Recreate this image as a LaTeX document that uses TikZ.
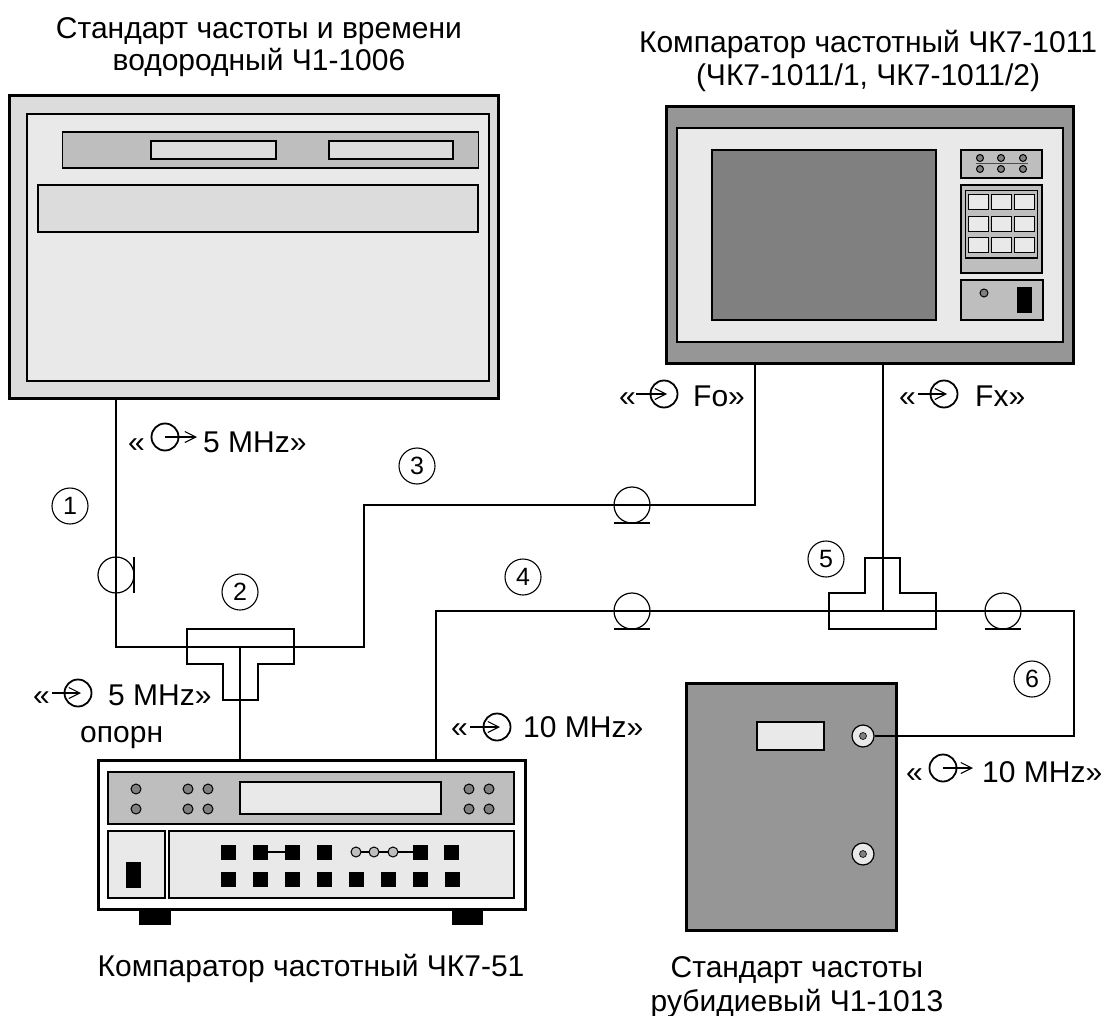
\documentclass[tikz,border=0pt]{standalone}
\usepackage{fontspec}
\setmainfont{Liberation Sans}
\usepackage{xcolor}
\usepackage{tikz}
\usetikzlibrary{arrows.meta,positioning,shapes.geometric}
\definecolor{lightpanel}{HTML}{E9E9E9}
\definecolor{midpanel}{HTML}{DCDCDC}
\definecolor{darkpanel}{HTML}{BEBEBE}
\definecolor{casegray}{HTML}{969696}
\definecolor{screengray}{HTML}{808080}

\begin{document}
\begin{tikzpicture}[x=1pt, y=-1pt,
  device/.style={rectangle, draw=black, line width=3pt, inner sep=0pt, outer sep=0pt},
  panel/.style={draw=black, line width=1.5pt},
  wire/.style={draw=black, line width=1.2pt},
  teepiece/.style={draw=black, line width=1.4pt},
  numcircle/.style={circle, draw=black, line width=1.1pt, minimum size=36pt, inner sep=0pt, font=\fontsize{25}{29}\selectfont},
  cablemark/.style={circle, draw=black, line width=1.2pt, minimum size=36pt, inner sep=0pt, outer sep=0pt},
  lamp/.style={circle, draw=black, line width=1pt, minimum size=10pt, inner sep=0pt, fill=screengray},
  blackkey/.style={rectangle, fill=black, minimum size=15pt, inner sep=0pt},
  softkey/.style={panel, line width=1pt, fill=lightpanel},
  portsym/.style={circle, draw=black, line width=1.8pt, minimum size=27pt, inner sep=0pt},
  portarrow/.style={draw=black, line width=1.1pt, -{Straight Barb[length=11pt,width=11pt]}},
  title/.style={font=\fontsize{30}{36}\selectfont, inner sep=0pt, anchor=base},
  portlabel/.style={font=\fontsize{30}{36}\selectfont, inner sep=0pt, anchor=base west}]

  \useasboundingbox (0,0) rectangle (1102,1016);

  % hydrogen standard
  \node (maser) [device, fill=midpanel, minimum width=489pt, minimum height=302pt] at (253.5,247) {};
  \draw [panel, fill=lightpanel] (27,114) rectangle (489,381);
  \draw [panel, fill=darkpanel] (62.5,132) rectangle (478.5,168);
  \draw [panel, fill=midpanel] (151,141) rectangle (276,159);
  \draw [panel, fill=midpanel] (329,141) rectangle (453,159);
  \draw [panel, fill=midpanel] (38,185) rectangle (478,232);

  % comparator 1011
  \node (compA) [device, fill=casegray, minimum width=407pt, minimum height=256pt] at (869.5,235) {};
  \draw [panel, fill=lightpanel] (677,128) rectangle (1063,342);
  \draw [panel, fill=screengray] (712,150) rectangle (936,320);
  \draw [panel, fill=darkpanel] (961,150) rectangle (1042,178);
  \draw [panel, fill=darkpanel] (961,185) rectangle (1042,273);
  \draw [panel, line width=1pt, fill=darkpanel] (965,191) rectangle (1037,258);
  \draw [panel, fill=darkpanel] (961,280) rectangle (1043,320);
  \draw [draw=black!70, line width=1pt] (976,164) -- (1028,164);
  \foreach \x in {980,1001,1023}
    \foreach \y in {158,169}
      \node [lamp, minimum size=7pt] at (\x,\y) {};
  \foreach \x in {968,991,1014}
    \foreach \y in {195,217,238}
      \draw [softkey] (\x,\y) rectangle ++(20,15);
  \node (compAlamp) [lamp, minimum size=8pt] at (984,293) {};
  \draw [fill=black, draw=none] (1017,287) rectangle (1032,313);

  % comparator 51
  \node (compB) [device, fill=white, minimum width=427pt, minimum height=149pt] at (311.5,834.5) {};
  \draw [panel, fill=darkpanel] (108,772) rectangle (514,824);
  \draw [panel, fill=lightpanel] (240,782) rectangle (441,814);
  \draw [panel, fill=lightpanel] (108,831) rectangle (165,898);
  \draw [panel, fill=lightpanel] (169,831) rectangle (514,898);
  \draw [fill=black, draw=none] (126,862) rectangle (141,888);
  \draw [fill=black, draw=none] (139,909) rectangle (171,925);
  \draw [fill=black, draw=none] (452,909) rectangle (483,925);
  \foreach \x in {136,188,208,469,489}
    \foreach \y in {789,809}
      \node [lamp] at (\x,\y) {};
  \draw [wire] (260,852) -- (292,852);
  \draw [wire] (356,852) -- (420,852);
  \foreach \x in {228,260,292,324,420,451}
    \node [blackkey] at (\x,852) {};
  \foreach \x in {356,374,393}
    \node [lamp, fill=darkpanel] at (\x,852) {};
  \foreach \x in {228,260,292,324,356,388,420,452}
    \node [blackkey] at (\x,879) {};

  % rubidium standard
  \node (rubid) [device, fill=casegray, minimum width=210pt, minimum height=247pt] at (791,806.5) {};
  \draw [panel, fill=lightpanel] (757,722) rectangle (824,750);
  \node (outA) [circle, draw=black, line width=1.2pt, fill=lightpanel, minimum size=22pt, inner sep=0pt] at (863,736) {};
  \node (outB) [circle, draw=black, line width=1.2pt, fill=lightpanel, minimum size=22pt, inner sep=0pt] at (863,854) {};
  \node [lamp, line width=.6pt, minimum size=7pt] at (outA) {};
  \node [lamp, line width=.6pt, minimum size=7pt] at (outB) {};

  % cable marks
  \node (markA) [cablemark] at (116,575) {};
  \node (markB) [cablemark] at (632,505) {};
  \node (markC) [cablemark] at (632,611) {};
  \node (markD) [cablemark] at (1003,611) {};
  \draw [wire] (markA.east |- markA.north) -- (markA.east |- markA.south);
  \draw [wire] (markB.west |- markB.south) -- (markB.east |- markB.south);
  \draw [wire] (markC.west |- markC.south) -- (markC.east |- markC.south);
  \draw [wire] (markD.west |- markD.south) -- (markD.east |- markD.south);

  % tees
  \draw [teepiece] (187,629) -- (294,629) -- (294,664) -- (258,664) -- (258,700) -- (223,700) -- (223,664) -- (187,664) -- cycle;
  \draw [teepiece] (829,629) -- (936,629) -- (936,593) -- (900,593) -- (900,558) -- (865,558) -- (865,593) -- (829,593) -- cycle;

  % wires
  \coordinate (teeA) at (240,647);
  \coordinate (teeB) at (883,611);
  \coordinate (bendA) at (364,647);
  \coordinate (bendB) at (364,505);
  \coordinate (bendC) at (436,611);
  \coordinate (bendD) at (1074,611);
  \coordinate (bendE) at (1074,736);
  \coordinate (portFo) at (755,363);
  \draw [wire] (maser.south -| markA) -- (markA.center) |- (teeA) -- (bendA) -- (bendB) -- (markB.center) -| (portFo);
  \draw [wire] (teeA) -- (compB.north -| teeA);
  \draw [wire] (compB.north -| bendC) -- (bendC) -- (markC.center) -- (teeB) -- (markD.center) -- (bendD) -- (bendE) -- (outA.east);
  \draw [wire] (compA.south -| teeB) -- (teeB);

  % numbers
  \node (numA) [numcircle] at (70,506) {1};
  \node (numB) [numcircle] at (240,592) {2};
  \node (numC) [numcircle] at (417,466) {3};
  \node (numD) [numcircle] at (523,577) {4};
  \node (numE) [numcircle] at (826,559) {5};
  \node (numF) [numcircle] at (1032,679) {6};

  % port symbols
  \foreach \name/\x/\y/\xa/\xb in {symA/165/437/165/197, symB/78/693/52/81, symC/664/394/636/667,
      symD/944/394/918/947, symE/497/727/470/500, symF/943/768/943/973} {
    \node (\name) [portsym] at (\x,\y) {};
    \coordinate (\name a) at (\xa,\y);
    \coordinate (\name b) at (\xb,\y);
    \draw [portarrow] (\name a) -- (\name b);
  }

  % port labels
  \node (lblA) [portlabel] at (128,452) {«};
  \node (lblAb) [portlabel] at (203,452) {5 MHz»};
  \node (lblB) [portlabel] at (33,705) {«};
  \node (lblBb) [portlabel] at (108,705) {5 MHz»};
  \node (lblBc) [portlabel] at (80,742) {опорн};
  \node (lblC) [portlabel] at (619,406) {«};
  \node (lblCb) [portlabel] at (693,406) {Fo»};
  \node (lblD) [portlabel] at (899,406) {«};
  \node (lblDb) [portlabel] at (975,406) {Fx»};
  \node (lblE) [portlabel] at (451,737) {«};
  \node (lblEb) [portlabel] at (523,737) {10 MHz»};
  \node (lblF) [portlabel] at (906,782) {«};
  \node (lblFb) [portlabel] at (982,782) {10 MHz»};

  % titles
  \node (ttlA) [title] at (259,39) {Стандарт частоты и времени};
  \node (ttlAb) [title] at (259,71) {водородный Ч1-1006};
  \node (ttlB) [title] at (868,53) {Компаратор частотный ЧК7-1011};
  \node (ttlBb) [title] at (868,86) {(ЧК7-1011/1, ЧК7-1011/2)};
  \node (ttlC) [title] at (311,976) {Компаратор частотный ЧК7-51};
  \node (ttlD) [title] at (797,977) {Стандарт частоты};
  \node (ttlDb) [title] at (797,1011) {рубидиевый Ч1-1013};
\end{tikzpicture}
\end{document}
